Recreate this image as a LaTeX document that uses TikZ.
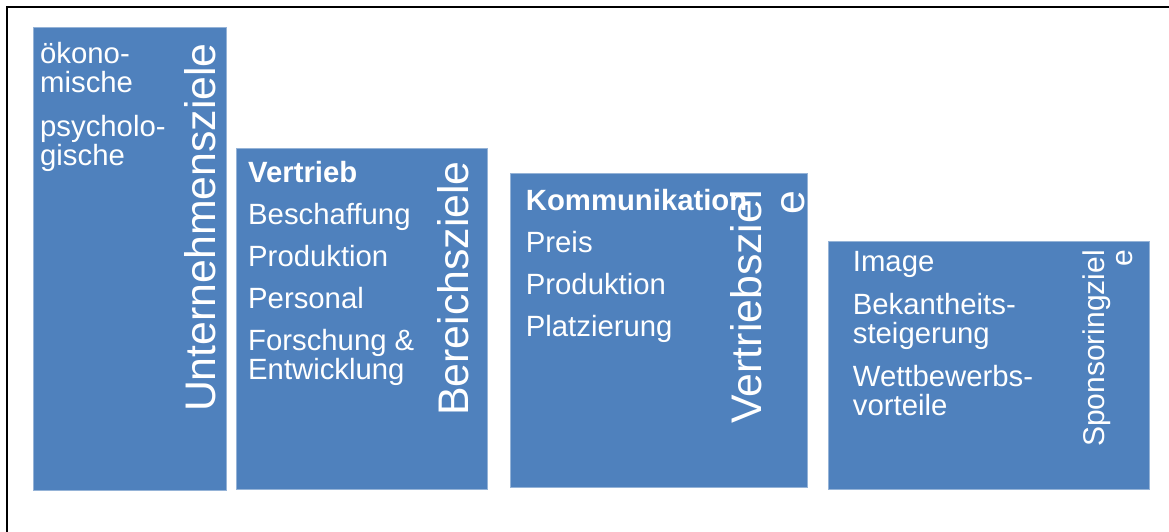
\documentclass[tikz,border=0pt]{standalone}
\usepackage{fontspec}
\setmainfont{Liberation Sans}
\usetikzlibrary{positioning}
\definecolor{zielblue}{HTML}{4F81BD}
\definecolor{zieledge}{HTML}{95B3D7}
\tikzset{
  zielbox/.style={draw=zieledge,line width=0.6pt,fill=zielblue,anchor=north west,inner sep=0pt},
  items/.style={text=white,align=left,anchor=north west,inner sep=0pt,font=\fontsize{29.3}{29}\selectfont},
  title/.style={text=white,rotate=90,align=right,anchor=south east,inner sep=0pt,font=\fontsize{42.8}{43}\selectfont},
}

\begin{document}
\begin{tikzpicture}[x=1pt,y=-1pt]
\useasboundingbox (0,0) rectangle (1169,532);

% frame
\draw[line width=1.5pt] (7,532) |- (1169,7);

% the four levels
\node[zielbox,minimum width=193pt,minimum height=463pt] (unternehmen) at (33,27) {};
\node[zielbox,minimum width=251pt,minimum height=341pt] (bereich) at (236,148) {};
\node[zielbox,minimum width=297pt,minimum height=314pt] (vertrieb) at (510,173) {};
\node[zielbox,minimum width=321pt,minimum height=248pt] (sponsoring) at (828,241) {};

% contents
\node[items] (u-list) at (40,42) {ökono-\\mische\\[15pt]psycholo-\\gische};
\node[items] (b-list) at (248,161.5) {\textbf{Vertrieb}\\[13pt]Beschaffung\\[13pt]Produktion\\[13pt]Personal\\[13pt]Forschung \&\\Entwicklung};
\node[items] (v-list) at (525.7,189.5) {\textbf{Kommunikation}\\[13pt]Preis\\[13pt]Produktion\\[13pt]Platzierung};
\node[items] (s-list) at (852.7,251.5) {Image\\[14pt]Bekantheits-\\steigerung\\[14pt]Wettbewerbs-\\vorteile};

% vertical titles
\node[title] (u-title) at (216,43) {Unternehmensziele};
\node[title] (b-title) at (469,161) {Bereichsziele};
\node[title] (v-title) at (805,190) {Vertriebsziel\\e};
\node[title,font=\fontsize{30}{28}\selectfont] (s-title) at (1133,250) {Sponsoringziel\\e};

\end{tikzpicture}
\end{document}
